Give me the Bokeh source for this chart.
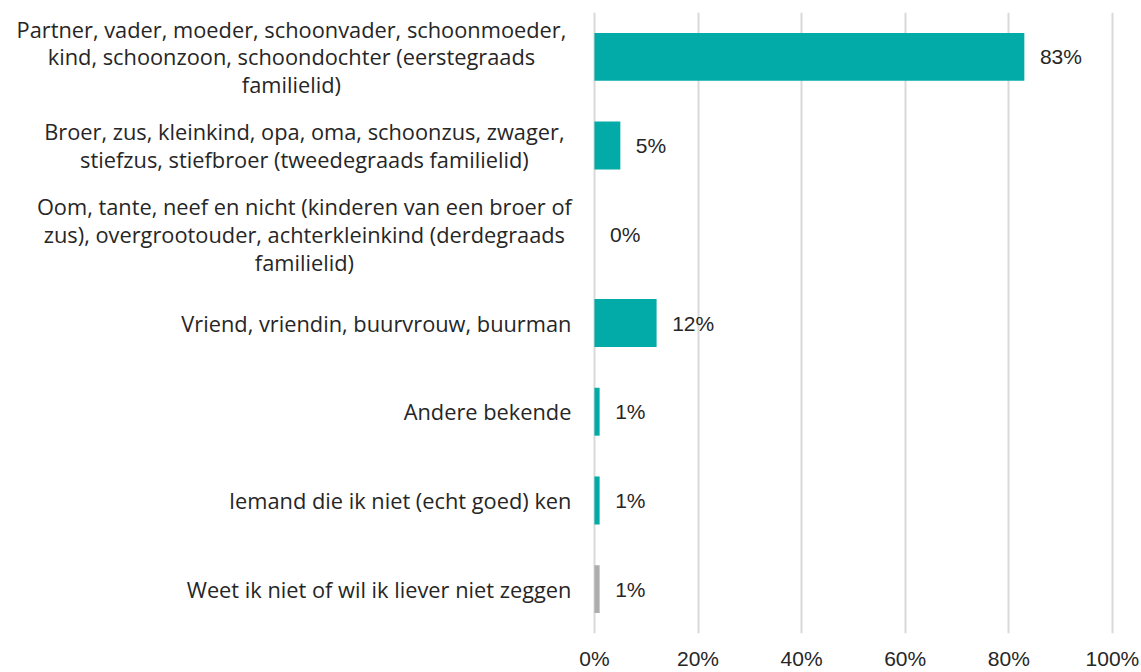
from bokeh.plotting import figure
from bokeh.models import FixedTicker, PrintfTickFormatter, ColumnDataSource, FactorRange, Range1d
from bokeh.core.properties import value
from bokeh.embed import file_html
from bokeh.resources import INLINE

categories = [
    "Partner, vader, moeder, schoonvader, schoonmoeder,\nkind, schoonzoon, schoondochter (eerstegraads\nfamilielid)",
    "Broer, zus, kleinkind, opa, oma, schoonzus, zwager,\nstiefzus, stiefbroer (tweedegraads familielid)",
    "Oom, tante, neef en nicht (kinderen van een broer of\nzus), overgrootouder, achterkleinkind (derdegraads\nfamilielid)",
    "Vriend, vriendin, buurvrouw, buurman",
    "Andere bekende",
    "Iemand die ik niet (echt goed) ken",
    "Weet ik niet of wil ik liever niet zeggen",
]
values = [83, 5, 0, 12, 1, 1, 1]
value_labels = ["83%", "5%", "0%", "12%", "1%", "1%", "1%"]
bar_colors = ["#02ABA8"] * 6 + ["#ADADAD"]
x_ticks = [0, 20, 40, 60, 80, 100]

# layout: label anchors (data units on x axis, left of 0)
label_x = [-58.5, -56.0, -56.0, -4.44, -4.44, -4.44, -4.44]
label_align = ["center", "center", "center", "right", "right", "right", "right"]

keys = [str(i) for i in range(len(categories))]
src = ColumnDataSource(dict(
    y=keys, v=values, c=bar_colors, lab=value_labels,
    lx=[v + 3.0 for v in values], cat=categories, cx=label_x, ca=label_align,
))

FONT = "Liberation Sans"
CAT_FONT = "Open Sans"

p = figure(width=1141, height=672, output_backend="svg", toolbar_location=None,
           y_range=FactorRange(*reversed(keys)), x_range=Range1d(-114.67, 100.6),
           min_border_left=0, min_border_right=26, min_border_top=12, min_border_bottom=37)
p.outline_line_color = None
p.background_fill_color = "white"
p.border_fill_color = "white"

p.hbar(y="y", right="v", left=0, height=0.54, fill_color="c", line_color=None, source=src)
p.text(x="lx", y="y", text="lab", source=src, text_baseline="middle", text_align="left",
       text_font=value(FONT), text_font_size="21px", text_color="#262626")
p.text(x="cx", y="y", text="cat", source=src, text_baseline="middle", text_align="ca",
       text_font=value(CAT_FONT), text_font_size="21.8px", text_color="#262626", text_line_height=0.96)

p.yaxis.visible = False
p.ygrid.grid_line_color = None
p.xgrid.ticker = FixedTicker(ticks=x_ticks)
p.xgrid.grid_line_color = "#D9D9D9"
p.xgrid.grid_line_width = 2
p.xaxis.ticker = FixedTicker(ticks=x_ticks)
p.xaxis.formatter = PrintfTickFormatter(format="%d%%")
p.xaxis.axis_line_color = None
p.xaxis.major_tick_line_color = None
p.xaxis.minor_tick_line_color = None
p.xaxis.major_tick_out = 0
p.xaxis.major_tick_in = 0
p.xaxis.minor_tick_out = 0
p.xaxis.minor_tick_in = 0
p.xaxis.major_label_standoff = 13
p.xaxis.major_label_text_font = FONT
p.xaxis.major_label_text_font_size = "21px"
p.xaxis.major_label_text_color = "#262626"

open("out.html", "w").write(file_html(p, INLINE))
